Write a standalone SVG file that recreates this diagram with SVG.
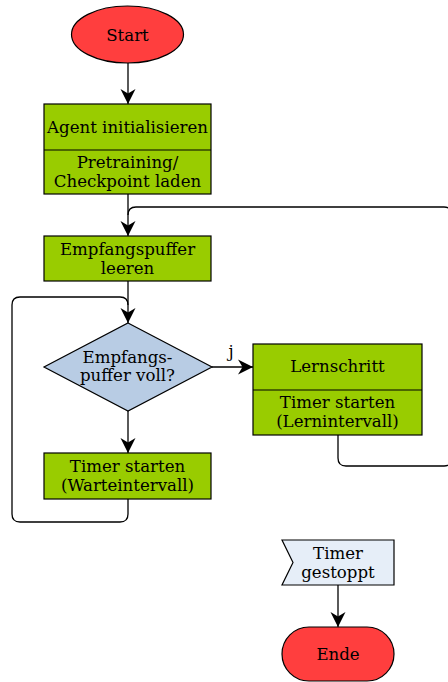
<svg xmlns="http://www.w3.org/2000/svg" width="448" height="682" viewBox="0 0 448 682">
<style>
.box{fill:#99cc00;stroke:#000;stroke-width:1.2}
.term{fill:#ff3e3e;stroke:#000;stroke-width:1.2}
.dec{fill:#b8cce4;stroke:#000;stroke-width:1.2}
.sig{fill:#e6eef8;stroke:#000;stroke-width:1.2}
.con{fill:none;stroke:#000;stroke-width:1.3}
</style>
<defs>
<marker id="ah" markerUnits="userSpaceOnUse" markerWidth="18" markerHeight="18" viewBox="-16 -9 18 18" refX="0" refY="0" orient="auto">
<path d="M0,0 L-15,-7.5 L-10.5,0 L-15,7.5 z" fill="#000"/>
</marker>
</defs>
<g id="connectors">
<path class="con" d="M128,63 V104" marker-end="url(#ah)"/>
<path class="con" d="M128,194 V236" marker-end="url(#ah)"/>
<path class="con" d="M338,435 V458 Q338,466 346,466 H444 Q452,466 452,458 V215 Q452,207 444,207 H136 Q128,207 128,215"/>
<path class="con" d="M128,281 V323" marker-end="url(#ah)"/>
<path class="con" d="M128,499 V514 Q128,522 120,522 H20 Q12,522 12,514 V305 Q12,297 20,297 H120 Q128,297 128,305"/>
<path class="con" d="M212,367 H253" marker-end="url(#ah)"/>
<path class="con" d="M128,411 V453" marker-end="url(#ah)"/>
<path class="con" d="M338,585 V627" marker-end="url(#ah)"/>
</g>
<g font-family="'DejaVu Serif', serif" font-size="16.6" text-anchor="middle" fill="#000">
<text x="231" y="357">j</text>
<g id="start">
<ellipse class="term" cx="127.5" cy="34.5" rx="56" ry="28.5"/>
<text x="127.5" y="40.5">Start</text>
</g>
<g id="init">
<rect class="box" x="44" y="104" width="167" height="90"/>
<line x1="44" y1="150" x2="211" y2="150" stroke="#000" stroke-width="1.2"/>
<text x="127.5" y="133">Agent initialisieren</text>
<text x="127.5" y="168">Pretraining/</text>
<text x="127.5" y="186.5">Checkpoint laden</text>
</g>
<g id="clear">
<rect class="box" x="44" y="236" width="167" height="45"/>
<text x="127.5" y="255">Empfangspuffer</text>
<text x="127.5" y="273.5">leeren</text>
</g>
<g id="decision">
<polygon class="dec" points="128,323 212,367 128,411 44,367"/>
<text x="127.5" y="363">Empfangs-</text>
<text x="127.5" y="380.5">puffer voll?</text>
</g>
<g id="learn">
<rect class="box" x="253" y="344" width="169" height="91"/>
<line x1="253" y1="390" x2="422" y2="390" stroke="#000" stroke-width="1.2"/>
<text x="337.5" y="372">Lernschritt</text>
<text x="337.5" y="408">Timer starten</text>
<text x="337.5" y="426.5">(Lernintervall)</text>
</g>
<g id="wait">
<rect class="box" x="44" y="453" width="167" height="46"/>
<text x="127.5" y="472">Timer starten</text>
<text x="127.5" y="490.5">(Warteintervall)</text>
</g>
<g id="stopped">
<polygon class="sig" points="282,540 394,540 394,585 282,585 293,562.5"/>
<text x="338" y="559">Timer</text>
<text x="338" y="577.5">gestoppt</text>
</g>
<g id="ende">
<rect class="term" x="282" y="627" width="112" height="54" rx="27" ry="27"/>
<text x="338" y="660">Ende</text>
</g>
</g>
</svg>
